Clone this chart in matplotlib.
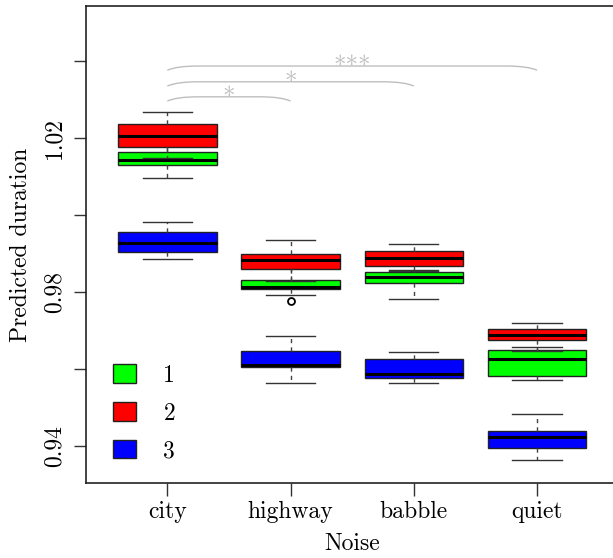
import matplotlib.pyplot as plt
from matplotlib.patches import Patch, PathPatch
from matplotlib.path import Path

plt.rcParams["font.family"] = "cmr10"
plt.rcParams["axes.formatter.use_mathtext"] = True

categories = ["city", "highway", "babble", "quiet"]
groups = ["1", "2", "3"]
colors = ["#00FF00", "#FF0000", "#0000FF"]

# five-number summaries per group: whislo, q1, med, q3, whishi (one row per category)
group1 = [
    [1.0097, 1.0129, 1.0144, 1.0164, 1.0185],
    [0.97914, 0.98086, 0.98122, 0.98312, 0.9870],
    [0.97826, 0.98234, 0.98390, 0.98511, 0.98560],
    [0.95706, 0.95818, 0.96268, 0.96494, 0.96579],
]
group2 = [
    [1.0147, 1.0176, 1.0205, 1.0236, 1.0267],
    [0.98286, 0.98589, 0.98831, 0.98995, 0.99358],
    [0.98545, 0.98675, 0.98891, 0.99065, 0.99247],
    [0.96459, 0.96745, 0.96891, 0.97039, 0.97195],
]
group3 = [
    [0.98865, 0.99031, 0.99281, 0.99558, 0.99826],
    [0.95636, 0.96044, 0.96104, 0.96475, 0.96849],
    [0.95645, 0.95758, 0.95870, 0.96268, 0.96434],
    [0.93636, 0.93948, 0.94241, 0.94397, 0.94839],
]
outliers1 = [[], [0.97766], [], []]
outliers2 = [[], [], [], []]
outliers3 = [[], [], [], []]

# significance brackets: (from category, to category, label, bracket height)
comparisons = [
    (1, 2, "*", 1.0307),
    (1, 3, "*", 1.0346),
    (1, 4, "***", 1.0387),
]

fig = plt.figure(figsize=(6.13, 5.58), dpi=100)
ax = fig.add_axes([86 / 613, 75 / 558, 532.4 / 613, 477 / 558])

positions = list(range(1, len(categories) + 1))
all_groups = [(group1, outliers1), (group2, outliers2), (group3, outliers3)]
for k, (summ, outl) in enumerate(all_groups):
    stats = []
    for s, o in zip(summ, outl):
        stats.append(dict(whislo=s[0], q1=s[1], med=s[2], q3=s[3], whishi=s[4], fliers=o))
    ax.bxp(
        stats,
        positions=positions,
        widths=0.8,
        capwidths=0.4,
        patch_artist=True,
        boxprops=dict(facecolor=colors[k], edgecolor="#222222", linewidth=1.0),
        medianprops=dict(color="black", linewidth=2.2),
        whiskerprops=dict(color="#444444", linewidth=1.0, linestyle=(0, (3, 3))),
        capprops=dict(color="#333333", linewidth=1.0),
        flierprops=dict(marker="o", markerfacecolor="white", markeredgecolor="black",
                        markersize=5, markeredgewidth=1.3),
        manage_ticks=False,
        zorder=2 + k,
    )

# brackets
d = 0.25
for x1, x2, label, yh in comparisons:
    yl = yh - 0.0011
    verts = [
        (x1, yl), (x1 + 0.3 * d, yh), (x1 + d, yh),
        (x2 - d, yh),
        (x2 - 0.3 * d, yh), (x2, yl),
    ]
    codes = [Path.MOVETO, Path.CURVE3, Path.CURVE3, Path.LINETO, Path.CURVE3, Path.CURVE3]
    ax.add_patch(PathPatch(Path(verts, codes), facecolor="none", edgecolor="#BEBEBE",
                           linewidth=1.0, zorder=1))
    ax.text((x1 + x2) / 2, yh - 0.0019, label, ha="center", va="baseline",
            color="#BEBEBE", fontsize=18)

ax.set_xlim(0.34, 4.66)
ax.set_ylim(0.93039, 1.05429)
ax.set_xticks(positions)
ax.set_xticklabels(categories)
ax.set_yticks([0.94, 0.96, 0.98, 1.00, 1.02, 1.04])
ax.set_yticklabels(["0.94", "", "0.98", "", "1.02", ""], rotation=90, va="center")
ax.tick_params(axis="both", length=9, width=1.0, color="#333333", labelsize=17)
ax.tick_params(axis="x", pad=4)
ax.tick_params(axis="y", pad=6)
ax.spines["right"].set_visible(False)
for sp in ["left", "top", "bottom"]:
    ax.spines[sp].set_color("#222222")
    ax.spines[sp].set_linewidth(1.2)

ax.set_xlabel("Noise", fontsize=17, labelpad=7)
ax.set_ylabel("Predicted duration", fontsize=17, labelpad=8)

handles = [Patch(facecolor=c, edgecolor="#222222", linewidth=1.0) for c in colors]
ax.legend(handles, groups, loc="upper left", bbox_to_anchor=(0.05, 0.249),
          frameon=False, fontsize=17, handlelength=1.0, handleheight=0.85,
          handletextpad=1.15, labelspacing=0.64, borderpad=0, borderaxespad=0)

fig.savefig("out.png", dpi=100)
